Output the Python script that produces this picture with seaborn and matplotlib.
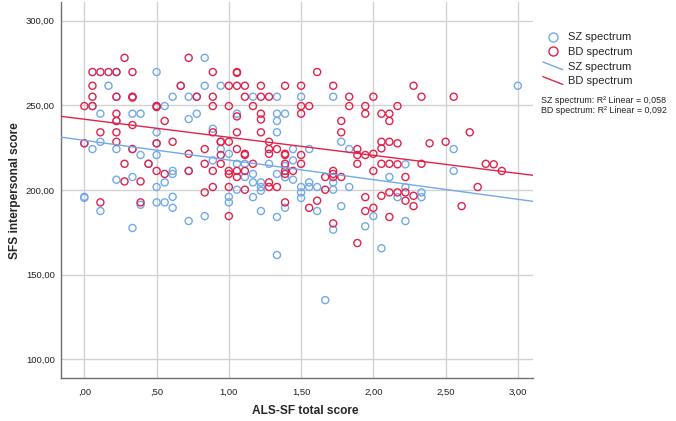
import matplotlib
matplotlib.use("Agg")
import matplotlib.pyplot as plt
import numpy as np
import pandas as pd
import seaborn as sns
from matplotlib.legend_handler import HandlerBase
from matplotlib.lines import Line2D
from matplotlib.ticker import FuncFormatter, MultipleLocator

# SZ spectrum: ALS-SF total score / SFS interpersonal score
# (last block = blue circles mostly hidden under red ones)
sz_als = [0.833, 0.5, 0.167, 0.833, 0.944, 0.611, 0.722, 0.056, 0.556, 0.111,
          0.333, 0.389, 0.722, 0.778, 0.889, 0.5, 0.111, 0.056, 0.222, 0.5,
          0.389, 0.889, 0.611, 0.611, 0.222, 0.333, 0.5, 0.556, 0.0, 0.0,
          0.111, 0.389, 0.5, 0.556, 0.611, 0.611, 0.722, 0.833, 0.333,
          1.333, 1.167, 1.5, 1.722, 1.056, 1.333, 1.389, 1.333, 1.333, 0.944,
          1.0, 1.444, 1.556, 1.778, 1.833, 1.056, 1.111, 1.278, 1.389, 1.444,
          1.167, 1.333,
          1.111, 1.389, 1.444, 1.0, 1.0, 1.056, 1.167, 1.167, 1.222, 1.222,
          1.222, 1.222, 1.333, 1.333, 1.389, 1.5, 1.5, 1.5, 1.556, 1.556,
          1.611, 1.611, 1.722, 1.722, 1.833, 1.778, 1.722, 1.667,
          3.0, 2.556, 2.222, 2.556, 2.111, 2.167, 2.222, 2.333, 2.333, 2.0,
          2.222, 1.944, 2.056,
          0.222, 0.667, 0.222, 0.333, 0.778, 0.5, 0.222, 0.0, 0.5, 0.333,
          0.444, 0.722]
sz_sfs = [278.1, 269.7, 261.6, 261.6, 261.6, 255.1, 255.1, 249.6, 249.6, 245.1,
          245.1, 245.1, 241.9, 245.1, 236.2, 234.1, 228.5, 224.2, 224.2, 220.7,
          220.7, 217.5, 211.3, 209.5, 206.1, 207.7, 201.8, 204.5, 196.0, 195.4,
          187.6, 191.3, 192.7, 192.7, 196.0, 189.5, 181.7, 184.6, 177.6,
          255.1, 255.1, 255.1, 255.1, 245.1, 245.1, 245.1, 240.8, 234.1, 224.2,
          221.4, 224.2, 224.2, 228.5, 224.2, 215.5, 215.5, 215.5, 214.2, 217.5,
          209.5, 209.5,
          207.7, 207.5, 206.1, 196.0, 192.7, 200.2, 204.5, 195.8, 204.5, 201.8,
          199.6, 187.6, 184.1, 161.6, 189.5, 201.8, 198.6, 195.3, 204.5, 201.8,
          201.8, 187.6, 204.5, 200.2, 201.8, 190.5, 176.6, 135.0,
          261.6, 224.2, 215.2, 211.3, 207.7, 195.8, 201.6, 198.6, 195.8, 184.6,
          181.7, 178.6, 165.6,
          269.7, 261.6, 255.1, 255.1, 255.1, 249.6, 240.8, 227.6, 227.6, 224.2,
          215.5, 211.3]

# BD spectrum
bd_als = [0.278, 0.722, 0.056, 0.111, 0.167, 0.222, 0.333, 0.889, 0.056, 0.667,
          0.056, 0.222, 0.333, 0.333, 0.778, 0.889, 0.0, 0.056, 0.5, 0.5,
          0.889, 0.222, 0.222, 0.333, 0.556, 0.889, 0.111, 0.222, 0.0, 0.222,
          0.5, 0.611, 0.944, 0.333, 0.722, 0.833, 0.278, 0.444, 0.833, 0.5,
          0.556, 0.722, 0.889, 0.278, 0.389, 0.833, 0.889, 0.111, 0.389,
          1.056, 1.056, 1.611, 1.0, 1.056, 1.111, 1.222, 1.389, 1.5, 1.722,
          1.111, 1.222, 1.278, 1.833, 1.0, 1.167, 1.5, 1.556, 1.833, 1.056,
          1.222, 1.222, 1.5, 1.778, 1.056, 1.222, 1.778, 0.944, 1.0, 1.056,
          1.111, 1.111, 1.278, 1.278, 1.278, 1.333, 1.389, 1.389, 1.5, 1.889,
          1.889, 0.944, 0.944, 1.167, 1.389, 1.5, 1.889, 1.0, 1.0, 1.056,
          1.111, 1.389, 1.389, 1.444, 1.667, 1.722, 1.722, 1.778,
          1.056, 1.0, 1.0, 1.111, 1.278, 1.278, 1.333, 1.389, 1.556, 1.611,
          1.667, 1.722, 1.722, 1.889,
          2.278, 2.0, 2.333, 2.556, 1.944, 1.944, 2.056, 2.111, 2.111, 2.167,
          1.944, 2.0, 2.056, 2.056, 2.111, 2.167, 2.389, 2.5, 2.667, 2.0,
          2.056, 2.111, 2.167, 2.333, 2.778, 2.833, 2.889, 2.222,
          1.944, 1.944, 2.0, 2.056, 2.111, 2.167, 2.222, 2.222, 2.278, 2.278,
          2.111, 2.722, 2.611]
bd_sfs = [278.1, 278.1, 269.7, 269.7, 269.7, 269.7, 269.7, 269.7, 261.6, 261.6,
          255.1, 255.1, 255.1, 254.6, 255.1, 255.1, 249.6, 249.6, 249.6, 249.0,
          249.6, 245.1, 240.8, 238.4, 240.8, 234.1, 234.1, 234.1, 227.6, 228.5,
          227.6, 228.5, 228.5, 224.2, 221.4, 224.2, 215.5, 215.5, 215.5, 211.3,
          209.5, 211.3, 211.3, 205.1, 205.1, 198.6, 201.8, 192.7, 192.7,
          269.7, 269.2, 269.7, 261.6, 261.6, 261.6, 261.6, 261.6, 261.6, 261.6,
          255.1, 255.1, 255.1, 255.1, 249.6, 249.6, 249.6, 249.6, 249.6, 243.5,
          245.1, 241.7, 245.1, 240.8, 234.1, 234.1, 234.1, 228.5, 228.5, 224.2,
          221.4, 220.7, 228.5, 224.2, 221.4, 224.2, 221.4, 220.7, 220.7, 224.2,
          220.7, 220.7, 215.5, 215.5, 215.5, 215.5, 215.5, 211.3, 209.5, 211.3,
          211.3, 211.3, 209.5, 211.3, 207.7, 211.3, 209.5, 207.7,
          207.7, 201.8, 184.6, 200.2, 204.5, 201.8, 201.8, 192.7, 189.5, 193.7,
          200.2, 207.7, 180.3, 168.7,
          261.6, 255.1, 255.1, 255.1, 249.6, 245.1, 245.1, 245.1, 240.8, 249.6,
          220.7, 221.4, 228.5, 224.6, 228.5, 227.6, 227.6, 228.5, 234.1, 211.3,
          215.5, 215.5, 215.2, 215.5, 215.5, 215.2, 211.3, 207.7,
          195.8, 187.6, 189.5, 196.6, 198.6, 198.6, 198.6, 193.7, 196.6, 190.5,
          184.1, 201.8, 190.5]

groups = ["SZ spectrum", "BD spectrum"]
r2_values = ["0,058", "0,092"]
blue = "#72a9ea"
red = "#e1234c"

sz = pd.DataFrame({"als": sz_als, "sfs": sz_sfs})
bd = pd.DataFrame({"als": bd_als, "sfs": bd_sfs})

sns.set_theme(style="whitegrid")
plt.rcParams["font.family"] = ["Liberation Sans", "DejaVu Sans"]

fig = plt.figure(figsize=(6.76, 4.21), dpi=100)
ax = fig.add_axes([0.0895, 0.1014, 0.699, 0.8936])
ax.set_xlim(-0.165, 3.105)
ax.set_ylim(88.8, 311)

# hollow circles, one call per group
for df, col in [(sz, blue), (bd, red)]:
    sns.scatterplot(data=df, x="als", y="sfs", ax=ax, marker="o", s=26,
                    facecolor="none", edgecolor=col, linewidth=1.0, zorder=3)

# linear fit lines over the whole x range
for df, col in [(sz, blue), (bd, red)]:
    sns.regplot(data=df, x="als", y="sfs", ax=ax, scatter=False, ci=None,
                truncate=False, line_kws=dict(color=col, lw=1.0, zorder=4))

ax.xaxis.set_major_locator(MultipleLocator(0.5))
ax.yaxis.set_major_locator(MultipleLocator(50))


def spss_fmt(v, pos):
    s = f"{v:.2f}".replace(".", ",")
    if s.startswith("0,"):
        s = s[1:]
    return s


ax.xaxis.set_major_formatter(FuncFormatter(spss_fmt))
ax.yaxis.set_major_formatter(FuncFormatter(spss_fmt))
ax.grid(color="#d2d2d2", lw=1.0)
ax.tick_params(length=0, labelsize=6.8, labelcolor="#222222")
ax.tick_params(axis="x", pad=7)
ax.tick_params(axis="y", pad=4)
for side in ["top", "right"]:
    ax.spines[side].set_visible(False)
for side in ["left", "bottom"]:
    ax.spines[side].set_color("#707070")
    ax.spines[side].set_linewidth(1.0)

ax.set_xlabel("ALS-SF total score", fontsize=8.6, fontweight="bold")
ax.set_ylabel("SFS interpersonal score", fontsize=8.6, fontweight="bold")
ax.xaxis.set_label_coords(0.517, -0.071)
ax.yaxis.set_label_coords(-0.083, 0.5)


class DiagonalHandler(HandlerBase):
    def create_artists(self, legend, orig_handle, xdescent, ydescent,
                       width, height, fontsize, trans):
        ln = Line2D([-xdescent, -xdescent + width], [-ydescent + height, -ydescent],
                    color=orig_handle.get_color(), lw=orig_handle.get_linewidth(),
                    transform=trans)
        return [ln]


handles = [
    Line2D([], [], ls="none", marker="o", ms=6.5, mfc="none", mec=blue, mew=1.0),
    Line2D([], [], ls="none", marker="o", ms=6.5, mfc="none", mec=red, mew=1.0),
    Line2D([], [], color=blue, lw=1.0),
    Line2D([], [], color=red, lw=1.0),
]
fig.legend(handles, groups + groups, loc="upper left",
           bbox_to_anchor=(0.803, 0.923), frameon=False, fontsize=8,
           borderpad=0, borderaxespad=0, handlelength=1.8, handletextpad=0.45,
           labelspacing=0.42,
           handler_map={handles[2]: DiagonalHandler(), handles[3]: DiagonalHandler()})

for i, (g, r2) in enumerate(zip(groups, r2_values)):
    fig.text(0.8, 0.762 - i * 0.024, f"{g}: R² Linear = {r2}", fontsize=6.4,
             va="center", ha="left", color="#222222")

fig.savefig("out.png", dpi=100)
